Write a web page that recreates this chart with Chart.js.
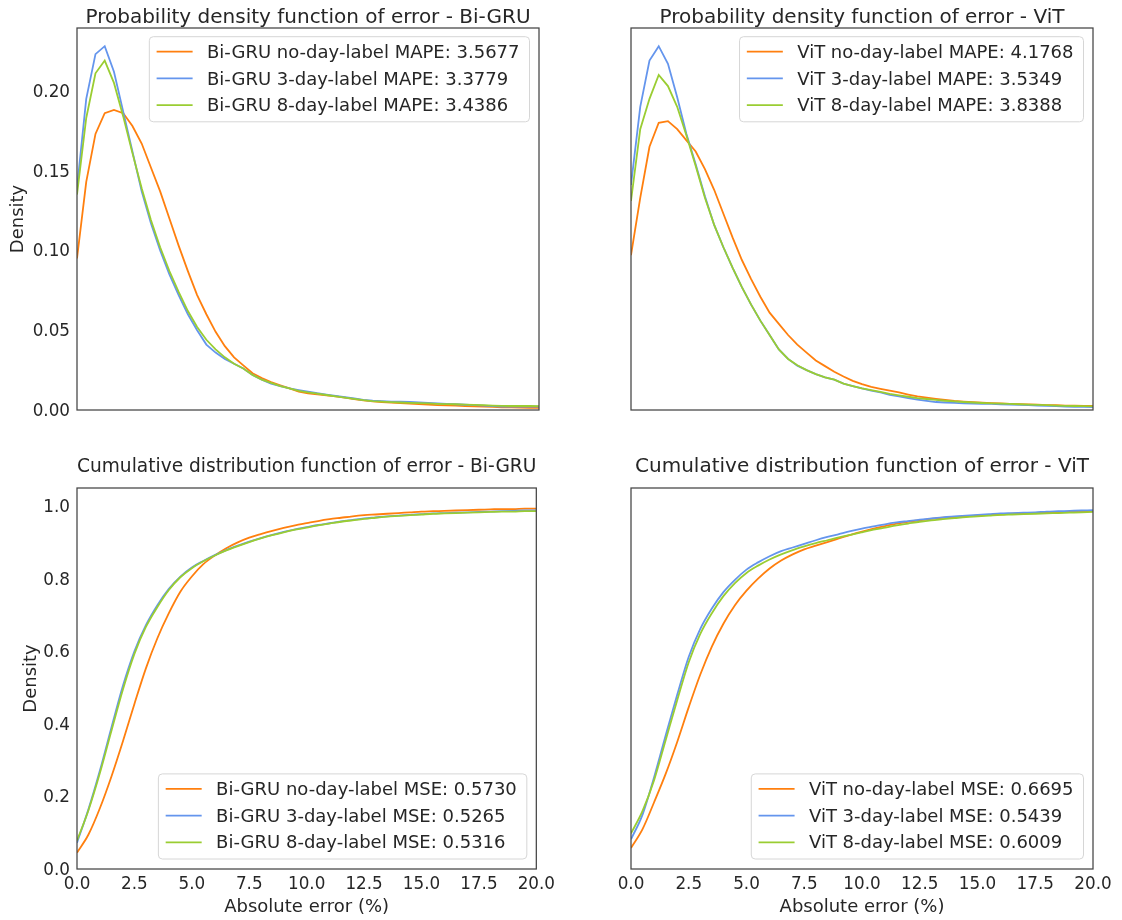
<!DOCTYPE html>
<html><head><meta charset="utf-8">
<script src="https://cdn.jsdelivr.net/npm/chart.js@4.4.1/dist/chart.umd.min.js"></script>
<style>
html,body{margin:0;padding:0;background:#fff;width:1122px;height:920px;overflow:hidden}
canvas{position:absolute}
</style></head><body>
<canvas id="pdfGru" width="561" height="440" style="left:0;top:0"></canvas>
<canvas id="pdfVit" width="561" height="440" style="left:561px;top:0"></canvas>
<canvas id="cdfGru" width="561" height="480" style="left:0;top:440px"></canvas>
<canvas id="cdfVit" width="561" height="480" style="left:561px;top:440px"></canvas>
<script>
// ---------- data ----------
const pdfGrid = [0,0.4,0.8,1.2,1.6,2,2.4,2.8,3.2,3.6,4,4.4,4.8,5.2,5.6,6,6.4,6.8,7.2,7.6,8,8.4,8.8,9.2,9.6,10,10.4,10.8,11.2,11.6,12,12.4,12.8,13.2,13.6,14,14.4,14.8,15.2,15.6,16,16.4,16.8,17.2,17.6,18,18.4,18.8,19.2,19.6,20];

const pdfGruNoDay = [0.095,0.143,0.173,0.186,0.188,0.186,0.178,0.167,0.152,0.137,0.120,0.103,0.087,0.072,0.060,0.049,0.040,0.033,0.028,0.023,0.020,0.0175,0.0155,0.0135,0.0115,0.0105,0.0098,0.0092,0.0085,0.0077,0.0068,0.006,0.0054,0.005,0.0046,0.0043,0.004,0.0037,0.0034,0.0031,0.0029,0.0027,0.0025,0.0023,0.0021,0.0019,0.0017,0.0016,0.0015,0.0014,0.0013];
const pdfGru3Day = [0.139,0.195,0.223,0.228,0.212,0.187,0.162,0.137,0.117,0.100,0.085,0.072,0.060,0.050,0.041,0.036,0.032,0.029,0.026,0.022,0.019,0.0165,0.015,0.0135,0.0125,0.0115,0.0105,0.0097,0.0088,0.008,0.0072,0.0064,0.0058,0.0055,0.0053,0.0052,0.005,0.0048,0.0045,0.0042,0.0039,0.0036,0.0033,0.003,0.0027,0.0024,0.0022,0.0022,0.0021,0.0021,0.0021];
const pdfGru8Day = [0.135,0.183,0.211,0.219,0.205,0.184,0.161,0.139,0.119,0.102,0.087,0.074,0.062,0.052,0.044,0.038,0.033,0.029,0.026,0.022,0.019,0.017,0.015,0.0135,0.012,0.011,0.0102,0.0094,0.0086,0.0078,0.007,0.0062,0.0056,0.0052,0.0049,0.0047,0.0045,0.0043,0.0041,0.0039,0.0037,0.0036,0.0034,0.0032,0.003,0.0028,0.0026,0.0025,0.0025,0.0025,0.0024];

const pdfVitNoDay = [0.097,0.133,0.165,0.180,0.181,0.176,0.169,0.162,0.151,0.138,0.123,0.108,0.094,0.082,0.071,0.061,0.054,0.047,0.041,0.036,0.031,0.0275,0.024,0.021,0.0183,0.0162,0.0145,0.0133,0.0122,0.011,0.0097,0.0085,0.0077,0.007,0.0063,0.0057,0.0053,0.0049,0.0046,0.0043,0.0041,0.0039,0.0037,0.0035,0.0033,0.0031,0.003,0.0028,0.0027,0.0026,0.0025];
const pdfVit3Day = [0.141,0.19,0.219,0.228,0.217,0.196,0.173,0.154,0.134,0.116,0.102,0.089,0.077,0.066,0.056,0.047,0.038,0.032,0.0278,0.025,0.0225,0.0205,0.019,0.0165,0.015,0.0135,0.0122,0.011,0.0095,0.0085,0.0075,0.0065,0.0057,0.005,0.0047,0.0045,0.0042,0.004,0.0039,0.0038,0.0036,0.0034,0.0032,0.003,0.0028,0.0026,0.0024,0.0022,0.002,0.0019,0.0018];
const pdfVit8Day = [0.131,0.176,0.195,0.210,0.203,0.190,0.172,0.153,0.133,0.116,0.102,0.089,0.077,0.066,0.056,0.047,0.038,0.032,0.028,0.025,0.0225,0.0205,0.019,0.0165,0.015,0.0135,0.0124,0.0113,0.0101,0.0092,0.0083,0.0075,0.0069,0.0063,0.0058,0.0054,0.005,0.0047,0.0044,0.0042,0.004,0.0038,0.0036,0.0034,0.0032,0.003,0.0028,0.0026,0.0025,0.0024,0.0023];

const cdfGrid = [0,0.5,1,1.5,2,2.5,3,3.5,4,4.5,5,5.5,6,6.5,7,7.5,8,8.5,9,9.5,10,10.5,11,11.5,12,12.5,13,13.5,14,14.5,15,15.5,16,16.5,17,17.5,18,18.5,19,19.5,20];

const cdfGruNoDay = [0.045,0.095,0.168,0.255,0.352,0.455,0.553,0.636,0.705,0.764,0.806,0.840,0.864,0.884,0.900,0.913,0.923,0.932,0.940,0.947,0.953,0.959,0.964,0.968,0.972,0.975,0.977,0.979,0.981,0.983,0.985,0.986,0.987,0.988,0.989,0.990,0.991,0.992,0.992,0.993,0.993];
const cdfGru3Day = [0.072,0.165,0.272,0.390,0.505,0.600,0.672,0.727,0.772,0.806,0.831,0.849,0.865,0.879,0.891,0.902,0.912,0.921,0.929,0.936,0.942,0.948,0.953,0.958,0.962,0.966,0.969,0.972,0.974,0.976,0.978,0.980,0.981,0.982,0.983,0.984,0.985,0.986,0.987,0.988,0.988];
const cdfGru8Day = [0.078,0.162,0.265,0.381,0.495,0.593,0.667,0.722,0.769,0.804,0.829,0.848,0.864,0.878,0.890,0.901,0.911,0.920,0.928,0.935,0.941,0.947,0.952,0.957,0.961,0.965,0.968,0.971,0.973,0.975,0.977,0.979,0.980,0.981,0.982,0.983,0.984,0.985,0.985,0.986,0.986];

const cdfVitNoDay = [0.058,0.110,0.184,0.262,0.350,0.446,0.536,0.613,0.676,0.727,0.767,0.800,0.828,0.850,0.867,0.881,0.891,0.901,0.911,0.921,0.930,0.938,0.945,0.952,0.957,0.961,0.965,0.968,0.970,0.972,0.974,0.976,0.977,0.979,0.980,0.981,0.982,0.983,0.984,0.985,0.986];
const cdfVit3Day = [0.082,0.150,0.253,0.368,0.480,0.585,0.662,0.718,0.763,0.797,0.825,0.845,0.862,0.876,0.886,0.896,0.906,0.915,0.923,0.931,0.938,0.944,0.950,0.955,0.959,0.963,0.966,0.969,0.972,0.974,0.976,0.978,0.980,0.981,0.982,0.983,0.985,0.986,0.987,0.988,0.989];
const cdfVit8Day = [0.098,0.160,0.245,0.355,0.465,0.570,0.648,0.705,0.752,0.788,0.816,0.836,0.853,0.867,0.879,0.889,0.898,0.906,0.914,0.921,0.928,0.935,0.941,0.947,0.952,0.957,0.961,0.964,0.967,0.970,0.972,0.974,0.976,0.977,0.978,0.979,0.980,0.981,0.982,0.983,0.984];

const gruPdfLabels = ['Bi-GRU no-day-label MAPE: 3.5677','Bi-GRU 3-day-label MAPE: 3.3779','Bi-GRU 8-day-label MAPE: 3.4386'];
const vitPdfLabels = ['ViT no-day-label MAPE: 4.1768','ViT 3-day-label MAPE: 3.5349','ViT 8-day-label MAPE: 3.8388'];
const gruCdfLabels = ['Bi-GRU no-day-label MSE: 0.5730','Bi-GRU 3-day-label MSE: 0.5265','Bi-GRU 8-day-label MSE: 0.5316'];
const vitCdfLabels = ['ViT no-day-label MSE: 0.6695','ViT 3-day-label MSE: 0.5439','ViT 8-day-label MSE: 0.6009'];

const xTicksStep = 2.5;
const pdfTickStep = 0.05;
const cdfTickStep = 0.2;

// ---------- styling ----------
const TEXT = '#262626';
const COLORS = ['#ff7f0e', '#6495ed', '#9acd32'];
const FONT = '"DejaVu Sans", "Liberation Sans", sans-serif';
Chart.defaults.font.family = FONT;

function series(xs, ys) { return xs.map((x, i) => ({x: x, y: ys[i]})); }

const framePlugin = {
  id: 'frame',
  afterDatasetsDraw(chart) {
    const ctx = chart.ctx, a = chart.chartArea;
    ctx.save();
    ctx.strokeStyle = '#444444';
    ctx.lineWidth = 1.25;
    ctx.strokeRect(a.left, a.top, a.right - a.left, a.bottom - a.top);
    ctx.restore();
  }
};

const boxLegend = {
  id: 'boxLegend',
  afterDraw(chart, args, opts) {
    const ctx = chart.ctx, a = chart.chartArea;
    const items = chart.data.datasets;
    ctx.save();
    ctx.font = '18px ' + FONT;
    let tw = 0;
    items.forEach(d => { tw = Math.max(tw, ctx.measureText(d.label).width); });
    const padL = 7.3, hl = 36, gap = 14.4, padR = 10, rowH = 26.7, padT = 15, padB = 16.7;
    const w = padL + hl + gap + tw + padR;
    const h = padT + rowH * (items.length - 1) + padB;
    const x = a.right - 9.5 - w;
    const y = opts.corner === 'lower' ? a.bottom - 10 - h : a.top + 8.7;
    const r = 4;
    ctx.beginPath();
    ctx.moveTo(x + r, y);
    ctx.lineTo(x + w - r, y); ctx.arcTo(x + w, y, x + w, y + r, r);
    ctx.lineTo(x + w, y + h - r); ctx.arcTo(x + w, y + h, x + w - r, y + h, r);
    ctx.lineTo(x + r, y + h); ctx.arcTo(x, y + h, x, y + h - r, r);
    ctx.lineTo(x, y + r); ctx.arcTo(x, y, x + r, y, r);
    ctx.closePath();
    ctx.fillStyle = 'rgba(255,255,255,0.8)';
    ctx.fill();
    ctx.strokeStyle = '#d6d6d6';
    ctx.lineWidth = 1;
    ctx.stroke();
    ctx.textBaseline = 'middle';
    ctx.textAlign = 'left';
    items.forEach((d, i) => {
      const cy = y + padT + rowH * i;
      ctx.strokeStyle = d.borderColor;
      ctx.lineWidth = 1.8;
      ctx.beginPath();
      ctx.moveTo(x + padL, cy);
      ctx.lineTo(x + padL + hl, cy);
      ctx.stroke();
      ctx.fillStyle = TEXT;
      ctx.fillText(d.label, x + padL + hl + gap, cy + 1.5);
    });
    ctx.restore();
  }
};

function makeChart(id, o) {
  const xScale = {
    type: 'linear', min: 0, max: 20, display: o.showX,
    grid: {display: false, drawTicks: false}, border: {display: false},
    ticks: {stepSize: xTicksStep, autoSkip: false, maxRotation: 0, color: TEXT, font: {size: 16.8}, padding: 6,
            callback: v => Number(v).toFixed(1)},
    title: {display: true, text: 'Absolute error (%)', color: TEXT, font: {size: 18}, padding: {top: 0, bottom: 1.5}}
  };
  if (o.showX) xScale.afterFit = s => { s.height = 51; };
  const yScale = {
    type: 'linear', min: 0, max: o.ymax, display: o.showY,
    grid: {display: false, drawTicks: false}, border: {display: false},
    ticks: {stepSize: o.ystep, includeBounds: false, color: TEXT, font: {size: 16.8}, padding: 7, labelOffset: 1.5,
            callback: v => Number(v).toFixed(o.ydec)},
    title: {display: true, text: 'Density', color: TEXT, font: {size: 18}, padding: {top: o.yTitlePad, bottom: 0}}
  };
  if (o.showY) yScale.afterFit = s => { s.width = 77; };
  return new Chart(document.getElementById(id), {
    type: 'line',
    data: {
      datasets: o.labels.map((lab, i) => ({
        label: lab,
        data: series(o.x, o.ys[i]),
        borderColor: COLORS[i],
        backgroundColor: COLORS[i],
        borderWidth: 1.8,
        pointRadius: 0,
        fill: false,
        tension: 0,
        cubicInterpolationMode: o.smooth ? 'monotone' : 'default',
        order: 3 - i
      }))
    },
    options: {
      responsive: false, animation: false, devicePixelRatio: 1,
      layout: {padding: o.pad},
      plugins: {
        legend: {display: false}, tooltip: {enabled: false},
        title: {display: true, text: o.title, fullSize: false, color: TEXT,
                font: {size: 20, weight: 'normal', lineHeight: 1}, padding: o.titlePad},
        boxLegend: {corner: o.corner}
      },
      scales: {x: xScale, y: yScale}
    },
    plugins: [framePlugin, boxLegend]
  });
}

makeChart('pdfGru', {
  title: 'Probability density function of error - Bi-GRU', labels: gruPdfLabels,
  x: pdfGrid, ys: [pdfGruNoDay, pdfGru3Day, pdfGru8Day], smooth: false,
  showX: false, showY: true, ymax: 0.2394, ystep: pdfTickStep, ydec: 2, yTitlePad: 7.5,
  pad: {left: 0, right: 22, top: 0, bottom: 30}, titlePad: {top: 8, bottom: 0}, corner: 'upper'
});
makeChart('pdfVit', {
  title: 'Probability density function of error - ViT', labels: vitPdfLabels,
  x: pdfGrid, ys: [pdfVitNoDay, pdfVit3Day, pdfVit8Day], smooth: false,
  showX: false, showY: false, ymax: 0.2394, ystep: pdfTickStep, ydec: 2, yTitlePad: 7.5,
  pad: {left: 70, right: 29, top: 0, bottom: 30}, titlePad: {top: 8, bottom: 0}, corner: 'upper'
});
makeChart('cdfGru', {
  title: 'Cumulative distribution function of error - Bi-GRU', labels: gruCdfLabels,
  x: cdfGrid, ys: [cdfGruNoDay, cdfGru3Day, cdfGru8Day], smooth: true,
  showX: true, showY: true, ymax: 1.05, ystep: cdfTickStep, ydec: 1, yTitlePad: 20.5,
  pad: {left: 0, right: 22, top: 0, bottom: 0}, titlePad: {top: 17, bottom: 11}, corner: 'lower'
});
makeChart('cdfVit', {
  title: 'Cumulative distribution function of error - ViT', labels: vitCdfLabels,
  x: cdfGrid, ys: [cdfVitNoDay, cdfVit3Day, cdfVit8Day], smooth: true,
  showX: true, showY: false, ymax: 1.05, ystep: cdfTickStep, ydec: 1, yTitlePad: 20.5,
  pad: {left: 70, right: 29, top: 0, bottom: 0}, titlePad: {top: 17, bottom: 11}, corner: 'lower'
});
</script>
</body></html>
